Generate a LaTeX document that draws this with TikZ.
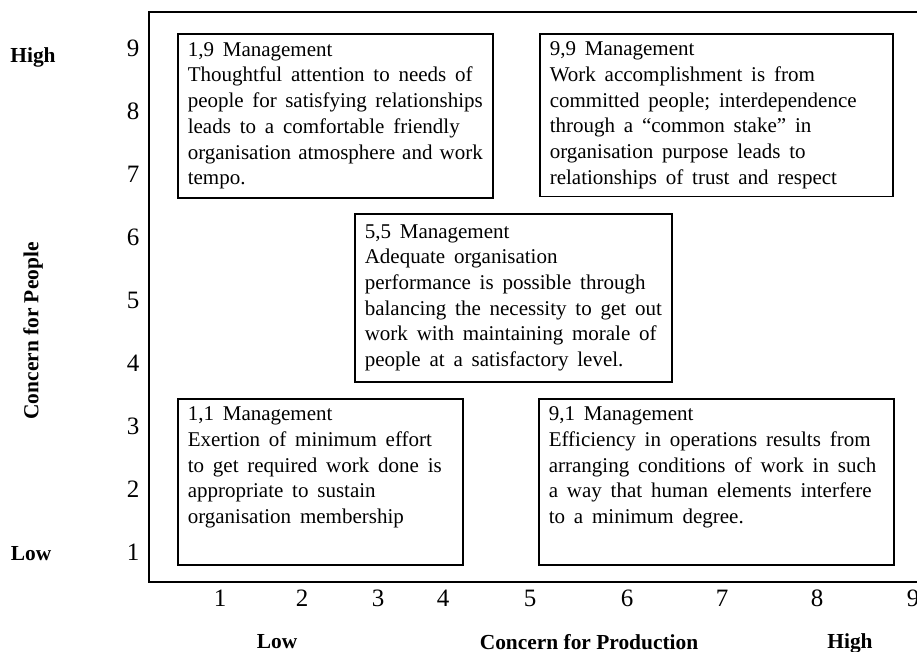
\documentclass[tikz,border=0pt]{standalone}
\usepackage{fontspec}
\setmainfont{Liberation Serif}
\usetikzlibrary{positioning}
\newcommand{\mgmtspacing}{\spaceskip=0.42em plus 0.2em minus 0.15em\linepenalty=1000\hyphenpenalty=10000\relax}
\tikzset{every picture/.append style={thick}}
\tikzset{
    mgmtbox/.style={draw, anchor=north west, align=left, inner xsep=5pt, inner ysep=4pt,
        font=\fontsize{10.5}{12.85}\selectfont, execute at begin node=\mgmtspacing},
    axislabel/.style={font=\fontsize{10.7}{12.8}\selectfont\bfseries},
    ticklabel/.style={font=\fontsize{12.5}{15}\selectfont}
}

\begin{document}
\begin{tikzpicture}[x=0.5pt, y=-0.5pt]
    \useasboundingbox (0,0) rectangle (917,652);
    % grid frame
    \draw[line width=1.1pt] (917,12) -| (149,582) -- (917,582);

    % management styles
    \node[mgmtbox, text width=147.5pt, minimum height=82pt] (b19) at (177,33)
        {1,9 Management\\ Thoughtful attention to needs of\\ people for satisfying relationships\\ leads to a comfortable friendly\\ organisation atmosphere and work\\ tempo.};
    \node[mgmtbox, text width=166.5pt, minimum height=81pt] (b99) at (539,33)
        {9,9 Management\\ Work accomplishment is from\\ committed people; interdependence\\ through a “common stake” in\\ organisation purpose leads to\\ relationships of trust and respect};
    \node[mgmtbox, text width=148.5pt, minimum height=84pt] (b55) at (354,213)
        {5,5 Management\\ Adequate organisation\\ performance is possible through\\ balancing the necessity to get out\\ work with maintaining morale of\\ people at a satisfactory level.};
    \node[mgmtbox, text width=132.5pt, minimum height=81pt] (b11) at (177,398)
        {1,1 Management\\ Exertion of minimum effort\\ to get required work done is\\ appropriate to sustain\\ organisation membership\\ \strut};
    \node[mgmtbox, text width=167.5pt, minimum height=80pt] (b91) at (538,398)
        {9,1 Management\\ Efficiency in operations results from\\ arranging conditions of work in such\\ a way that human elements interfere\\ to a minimum degree.\\ \strut};

    % scale numbers
    \foreach \i in {1,...,9}
        \node[ticklabel] (ty\i) at (133,{552-(\i-1)*62.9}) {\i};
    \foreach \i/\x in {1/220, 2/302, 3/378, 4/443, 5/530, 6/627, 7/722, 8/817, 9/913}
        \node[ticklabel] (tx\i) at (\x,598) {\i};

    % axis titles
    \node[axislabel] (yhigh) at (33,57) {High};
    \node[axislabel] (ylow) at (31,554) {Low};
    \node[axislabel, rotate=90] (ytitle) at (33,331) {Concern for People};
    \node[axislabel] (xlow) at (277,642) {Low};
    \node[axislabel] (xtitle) at (589,642) {Concern for Production};
    \node[axislabel] (xhigh) at (850,643) {High};
\end{tikzpicture}
\end{document}
